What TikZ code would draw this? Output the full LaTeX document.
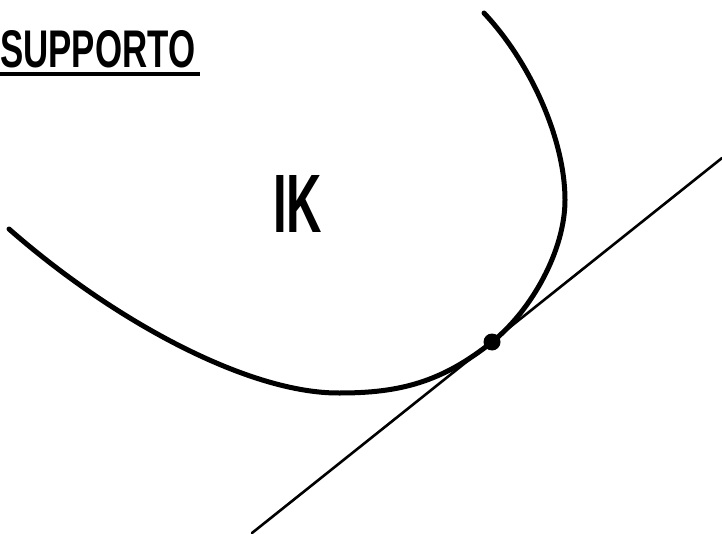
\documentclass[tikz,border=0pt]{standalone}
\usepackage{fontspec}
\setmainfont{Liberation Sans}
\usepackage{graphicx}
\tikzset{
  curveline/.style={line width=5pt, line cap=round, line join=round},
  tangentline/.style={line width=2.6pt, line cap=round},
  touchdot/.style={fill=black, circle, inner sep=0pt, minimum size=17pt},
  txt/.style={inner sep=0pt, anchor=north west}
}
\begin{document}
\begin{tikzpicture}[x=1pt,y=-1pt]
\useasboundingbox (0,0) rectangle (722,534);
% title
\node[txt] (title) at (0,30) {\resizebox{195pt}{37pt}{\bfseries SUPPORTO}};
\draw[line width=3.5pt] (0,74) -- (200,74);
% label K
\node[txt] (K) at (273,175) {\resizebox{49pt}{57pt}{\bfseries IK}};
% tangent line
\coordinate (A) at (252,533);
\coordinate (B) at (722,158);
\coordinate (P) at (492,342);
\coordinate (S) at (9,229);
\coordinate (L) at (340,393);
\coordinate (R) at (565,200);
\coordinate (E) at (484,13);
% boundary curve
\draw[curveline] (S) .. controls (115,322) and (250,394) .. (L)
  .. controls (400,393) and (442,382) .. (P)
  .. controls (532,310) and (565,250) .. (R)
  .. controls (565,140) and (531,63) .. (E);
\draw[tangentline] (A) -- (B);
\node[touchdot] (dot) at (P) {};
\end{tikzpicture}
\end{document}
